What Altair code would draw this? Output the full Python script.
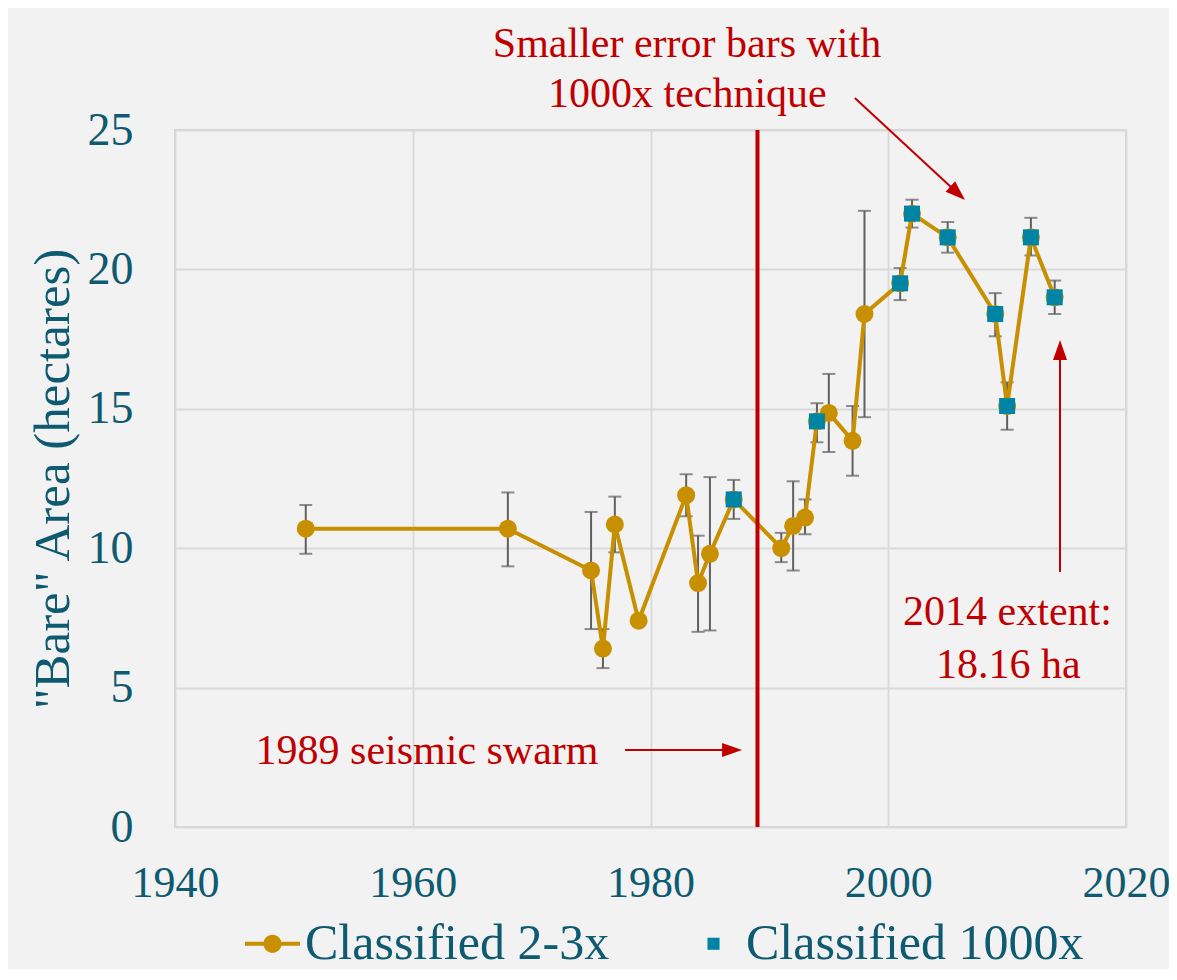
import altair as alt
import pandas as pd

# ---------------- data ----------------
years = [1951, 1968, 1975, 1976, 1977, 1979, 1983, 1984, 1985, 1987, 1991, 1992,
         1993, 1994, 1995, 1997, 1998, 2001, 2002, 2005, 2009, 2010, 2012, 2014]
area = [10.7, 10.7, 9.2, 6.4, 10.85, 7.4, 11.9, 8.75, 9.8, 11.75, 10.0, 10.8,
        11.1, 14.55, 14.85, 13.85, 18.4, 19.5, 22.0, 21.15, 18.4, 15.1, 21.15, 19.0]
err_hi = [11.55, 12.0, 11.3, 7.1, 11.85, None, 12.65, 10.45, 12.55, 12.45, 10.55, 12.4,
          11.75, 15.2, 16.25, 15.1, 22.1, 20.05, 22.5, 21.7, 19.15, 15.95, 21.85, 19.6]
err_lo = [9.8, 9.35, 7.1, 5.7, 9.85, None, 11.15, 7.0, 7.05, 11.05, 9.5, 9.2,
          10.5, 13.8, 13.45, 12.6, 14.7, 18.9, 21.5, 20.6, 17.6, 14.25, 20.5, 18.4]
years_1000x = [1987, 1994, 2001, 2002, 2005, 2009, 2010, 2012, 2014]

series_names = ["Classified 2-3x", "Classified 1000x"]

x_ticks = [1940, 1960, 1980, 2000, 2020]
y_ticks = [0, 5, 10, 15, 20, 25]

swarm_year = [1989]

# annotation texts (positions in data units)
ann_text = ["Smaller error bars with", "1000x technique", "2014 extent:", "18.16 ha", "1989 seismic swarm"]
ann_year = [1983.07, 1983.1, 2010.03, 2010.1, 1961.2]
ann_area = [27.62, 25.82, 7.24, 5.36, 2.26]

# arrows: start -> head centre, head angle
arr_year = [1997.19, 2014.45, 1977.86]
arr_area = [26.15, 9.15, 2.76]
arr_year2 = [2005.84, 2014.45, 1986.86]
arr_area2 = [22.73, 17.11, 2.76]
arr_angle = [132.8, 0, 90]

# ---------------- styling ----------------
ORANGE = "#C89000"
TEAL_SQ = "#0084A6"
TEXT_TEAL = "#0E5A70"
RED = "#C00000"
GREY = "#606060"
FONT = "Liberation Serif"

df = pd.DataFrame({"year": years, "area": area, "hi": err_hi, "lo": err_lo})
df_sq = df[df["year"].isin(years_1000x)]
df_err = df.dropna()
df_leg = pd.DataFrame({"year": [years[0], years_1000x[0]],
                       "area": [area[0], area[years.index(years_1000x[0])]],
                       "series": series_names})
df_ann = pd.DataFrame({"year": ann_year, "area": ann_area, "text": ann_text})
df_arr = pd.DataFrame({"year": arr_year, "area": arr_area, "year2": arr_year2,
                       "area2": arr_area2, "ang": arr_angle})
df_swarm = pd.DataFrame({"year": swarm_year})

xscale = alt.Scale(domain=[1940, 2020], nice=False, zero=False)
yscale = alt.Scale(domain=[0, 25], nice=False)

xaxis = alt.Axis(values=x_ticks, format="d", title=None, labelFontSize=44,
                 labelColor=TEXT_TEAL, labelFont=FONT, labelPadding=34, ticks=False,
                 domain=False, grid=True, gridColor="#D9D9D9", gridWidth=1.8,
                 labelFlush=False, labelOverlap=False)
yaxis = alt.Axis(values=y_ticks, title='"Bare" Area (hectares)', labelFontSize=46,
                 labelColor=TEXT_TEAL, labelFont=FONT, labelPadding=42, ticks=False,
                 domain=False, grid=True, gridColor="#D9D9D9", gridWidth=1.8,
                 titleFontSize=51, titleFont=FONT, titleColor=TEXT_TEAL,
                 titleFontWeight="normal", titlePadding=8, labelFlush=False,
                 labelOverlap=False)

X = alt.X("year:Q", scale=xscale, axis=xaxis)
Y = alt.Y("area:Q", scale=yscale, axis=yaxis)

err_rule = alt.Chart(df_err).mark_rule(color=GREY, strokeWidth=2).encode(
    x=X, y=alt.Y("lo:Q", scale=yscale, axis=yaxis), y2="hi:Q")
err_cap_hi = alt.Chart(df_err).mark_tick(color=GREY, orient="horizontal", size=13, thickness=2).encode(
    x=X, y=alt.Y("hi:Q", scale=yscale, axis=yaxis))
err_cap_lo = alt.Chart(df_err).mark_tick(color=GREY, orient="horizontal", size=13, thickness=2).encode(
    x=X, y=alt.Y("lo:Q", scale=yscale, axis=yaxis))

line = alt.Chart(df).mark_line(color=ORANGE, strokeWidth=4).encode(x=X, y=Y)
circles = alt.Chart(df).mark_circle(color=ORANGE, size=324, opacity=1).encode(x=X, y=Y)
squares = alt.Chart(df_sq).mark_square(color=TEAL_SQ, size=256, opacity=1).encode(x=X, y=Y)

swarm = alt.Chart(df_swarm).mark_rule(color=RED, strokeWidth=4).encode(x=X)

arrows = alt.Chart(df_arr).mark_rule(color=RED, strokeWidth=2).encode(
    x=X, y=Y, x2="year2:Q", y2="area2:Q")
heads = alt.Chart(df_arr).mark_point(shape="M0,-1L0.7,1L-0.7,1Z", filled=True, color=RED,
                                     size=400, opacity=1).encode(
    x=alt.X("year2:Q", scale=xscale, axis=xaxis),
    y=alt.Y("area2:Q", scale=yscale, axis=yaxis),
    angle=alt.Angle("ang:Q", scale=None))

texts = alt.Chart(df_ann).mark_text(font=FONT, fontSize=42, color=RED, align="center",
                                    baseline="alphabetic").encode(x=X, y=Y, text="text:N")

LEG_PATH_LINE = ("M-1,-0.075L-0.3,-0.075L-0.3,0.075L-1,0.075Z "
                 "M0.3,-0.075L1,-0.075L1,0.075L0.3,0.075Z "
                 "M0.33,0A0.33,0.33,0,1,1,-0.33,0A0.33,0.33,0,1,1,0.33,0Z")
LEG_PATH_SQ = "M-0.22,-0.22L0.22,-0.22L0.22,0.22L-0.22,0.22Z"

leg_props = dict(orient="none", legendX=70, legendY=786, direction="horizontal", title=None,
                 labelFont=FONT, labelFontSize=50, labelColor=TEXT_TEAL, labelLimit=1000,
                 symbolSize=3025, symbolStrokeWidth=0, symbolOpacity=1, labelOffset=5,
                 columnPadding=76, padding=0)

legend_carrier = alt.Chart(df_leg).mark_point(filled=True, opacity=0).encode(
    x=X, y=Y,
    color=alt.Color("series:N", scale=alt.Scale(domain=series_names, range=[ORANGE, TEAL_SQ]),
                    legend=alt.Legend(**leg_props)),
    shape=alt.Shape("series:N", scale=alt.Scale(domain=series_names, range=[LEG_PATH_LINE, LEG_PATH_SQ]),
                    legend=alt.Legend(**leg_props)),
)

chart = alt.layer(
    err_rule, err_cap_hi, err_cap_lo, line, circles, squares, swarm, arrows, heads, texts,
    legend_carrier
).properties(
    width=951, height=697,
    autosize=alt.AutoSizeParams(type="none"),
    padding={"left": 167, "top": 122, "right": 43, "bottom": 142},
    background="#F2F2F2",
).configure_view(
    fill="#F2F2F2", stroke="#C8C8C8", strokeWidth=1.5
)

chart.save("out.html", embed_options={"renderer": "svg", "actions": False})
